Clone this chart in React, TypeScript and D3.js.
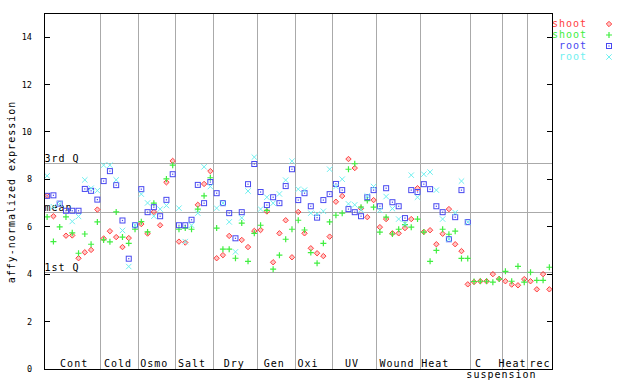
import React from 'react';
import * as d3 from 'd3';

// ---- data ----
const groupNames = ['Cont', 'Cold', 'Osmo', 'Salt', 'Dry', 'Gen', 'Oxi', 'UV', 'Wound', 'Heat', 'C|suspension', 'Heat', 'rec'];
const groupSizes = [9, 6, 6, 6, 7, 6, 6, 7, 7, 8, 5, 4, 4];
const yTicks = [0, 2, 4, 6, 8, 10, 12, 14];
const refLabels = ['3rd Q', 'mean', '1st Q'];
const refValues = [8.69, 6.62, 4.09];
const seriesNames = ['shoot', 'shoot', 'root', 'root'];

const N = null;
const shootA = [
  7.31, 6.45, N, 5.63, 5.64, 4.68, 4.93, 5.03, 6.73,
  5.51, 5.82, 5.57, 5.15, 5.53, N,
  6.12, 5.72, 6.63, 6.07, 7.88, 8.78,
  5.38, 5.34, N, 6.93, 7.81, 8.35,
  4.68, 4.81, 5.62, N, 5.45, 5.15, 5.83,
  5.87, 6.65, 4.51, 5.73, 6.28, 4.72,
  6.63, 5.73, 5.10, 4.89, 4.77, 5.59,
  7.06, 7.30, 8.86, 8.48, 6.78, 6.41, 7.13,
  5.99, 6.33, 5.73, 5.73, 5.95, 6.33, 7.63,
  5.79, 5.86, 5.27, 5.71, 6.75, 5.27, 4.98, 3.58,
  3.68, 3.71, 3.71, 4.01, 3.81,
  3.71, 3.57, 3.54, 3.80,
  3.71, 3.37, 4.01, 3.37,
];
const shootB = [
  6.42, 5.38, 6.00, 6.42, 5.75, 4.89, 5.70, 5.27, 6.21,
  5.45, 5.37, 6.63, 5.57, 5.31, 5.90,
  6.22, 5.79, 7.00, N, 8.02, 8.60,
  5.90, 5.95, 5.90, 6.75, 7.31, 8.07,
  5.95, 5.06, 5.06, 4.68, 6.16, 4.55, 5.73,
  6.07, 6.70, 4.22, 4.81, 5.48, 5.90,
  6.28, 5.87, 4.92, 4.47, 5.31, 6.21,
  6.49, 6.58, 8.43, 8.66, 6.83, 7.11, 6.83,
  5.78, 6.41, 5.70, 5.90, 6.10, 5.99, 6.33,
  5.78, 4.55, 5.01, 5.90, 5.69, 5.82, 4.67, 4.67,
  3.70, 3.71, 3.71, 3.67, 3.80,
  4.13, 3.71, 4.34, 3.67,
  4.09, 3.75, 3.75, 4.30,
];
const rootA = [
  7.31, 7.33, 6.98, 6.68, 6.68, 6.68, 7.60, 7.52, 7.15,
  7.93, 8.35, 7.76, 6.27, 4.66, 6.07,
  7.59, 6.62, 6.83, 6.45, 7.14, 8.22,
  6.07, 6.07, 6.30, 7.77, 7.00, 7.89,
  7.42, 7.00, 6.58, 5.52, 6.62, 7.80, 8.65,
  7.47, 6.92, 7.25, 7.00, 7.72, 8.43,
  7.13, 7.42, 6.87, 6.39, 7.13, 7.38,
  7.81, 7.55, 6.75, 6.62, 6.45, 7.25, 7.55,
  6.87, 7.63, 7.04, 6.87, 6.37, 7.55, 7.47,
  7.80, 7.59, 6.87, 6.62, 5.48, 6.41, 7.55, 6.20,
  N, N, N, N, N,
  N, N, N, N,
  N, N, N, N,
];
const rootB = [
  8.15, 6.85, 6.98, N, 6.23, 6.44, 7.98, 7.63, 7.53,
  8.60, 8.60, 7.98, 5.85, 4.33, 6.07,
  7.38, 7.01, 6.45, 6.75, 6.90, N,
  6.79, 5.38, 6.07, 6.58, 8.53, 7.70,
  6.79, 7.00, 6.21, 4.95, 6.38, 7.51, 8.94,
  6.75, 7.25, 7.00, 7.39, 7.97, 8.77,
  7.59, 7.55, 6.58, 6.54, 6.66, 8.43,
  7.70, 8.01, 6.97, 6.93, 6.72, 7.30, 7.70,
  6.70, 7.28, 6.77, 6.33, 6.13, 8.18, 7.25,
  8.22, 8.31, 7.55, 6.33, 5.48, 6.60, 7.93, 6.20,
  N, N, N, N, N,
  N, N, N, N,
  N, N, N, N,
];

// ---- layout / style ----
const W = 640, H = 384;
const L = 44, R = 552.5, T = 13.3, B = 369.3;
const colors = ['#ff4040', '#40ee40', '#4848f0', '#70f0f0'];
const grid = '#aaaaaa';
const font = '"DejaVu Sans Mono", monospace';
const labelNudge = [1.4, -1.9, -3.3, -3.2, -1.8, -2.6, -6.5, -3.3, -2.1, -11, -8.6, -2.9, -0.5];

function Marker({ kind, x, y, color }: { kind: number; x: number; y: number; color: string }) {
  if (kind === 0) {
    const d = `M${x},${y - 2.7}L${x + 2.7},${y}L${x},${y + 2.7}L${x - 2.7},${y}Z`;
    return <path d={d} fill={color} fillOpacity={0.3} stroke={color} strokeWidth={1} />;
  }
  if (kind === 1) {
    return (
      <path d={`M${x - 3},${y}H${x + 3}M${x},${y - 3}V${y + 3}`} stroke={color} strokeWidth={1.2} fill="none" />
    );
  }
  if (kind === 2) {
    return (
      <g>
        <rect x={x - 2.5} y={y - 2.5} width={5} height={5} fill="none" stroke={color} strokeWidth={1} />
        <rect x={x - 0.6} y={y - 0.6} width={1.2} height={1.2} fill={color} />
      </g>
    );
  }
  return (
    <path d={`M${x - 2.7},${y - 2.7}L${x + 2.7},${y + 2.7}M${x - 2.7},${y + 2.7}L${x + 2.7},${y - 2.7}`} stroke={color} strokeWidth={1} fill="none" />
  );
}

export default function App() {
  const total = d3.sum(groupSizes);
  const x = d3.scaleLinear().domain([0, total]).range([L, R]);
  const y = d3.scaleLinear().domain([0, 15]).range([B, T]);
  const bounds = d3.cumsum(groupSizes);
  const starts = [0, ...Array.from(bounds).slice(0, -1)];
  const series = [shootA, shootB, rootA, rootB];

  return (
    <svg width={W} height={H} style={{ position: 'absolute', left: 0, top: 0, background: '#fff' }}
      fontFamily={font}>
      <rect x={0} y={0} width={W} height={H} fill="#fff" />
      {Array.from(bounds).slice(0, -1).map((b, i) => (
        <line key={'s' + i} x1={x(b)} x2={x(b)} y1={T} y2={B} stroke={grid} strokeWidth={1} shapeRendering="crispEdges" />
      ))}
      {refValues.map((v, i) => (
        <g key={'r' + i}>
          <line x1={L} x2={R} y1={y(v)} y2={y(v)} stroke={grid} strokeWidth={1} shapeRendering="crispEdges" />
          <text x={L + 0.5} y={y(v) - 1.5} fontSize={10} letterSpacing={1} fill="#000">{refLabels[i]}</text>
        </g>
      ))}
      {series.map((s, k) => (
        <g key={'g' + k}>
          {s.map((v, i) => v == null ? null : (
            <Marker key={i} kind={k} x={x(i + 0.5)} y={y(v)} color={colors[k]} />
          ))}
        </g>
      ))}
      <rect x={L} y={T} width={R - L} height={B - T} fill="none" stroke="#000" strokeWidth={1} shapeRendering="crispEdges" />
      {yTicks.map(t => (
        <g key={'t' + t}>
          <line x1={L} x2={L + 6} y1={y(t)} y2={y(t)} stroke="#000" shapeRendering="crispEdges" />
          <line x1={R - 6} x2={R} y1={y(t)} y2={y(t)} stroke="#000" shapeRendering="crispEdges" />
          <text x={32} y={y(t) + 3} fontSize={8.5} textAnchor="end" fill="#000">{t}</text>
        </g>
      ))}
      {groupNames.map((g, i) => {
        const cx = (x(starts[i]) + x(bounds[i])) / 2;
        const parts = g.split('|');
        if (parts.length === 1) {
          return <text key={'l' + i} x={cx + labelNudge[i] + 0.5} y={367} fontSize={10} letterSpacing={1} textAnchor="middle" fill="#000">{g}</text>;
        }
        return (
          <g key={'l' + i}>
            <text x={cx + labelNudge[i] + 0.5} y={367} fontSize={10} letterSpacing={1} textAnchor="middle" fill="#000">{parts[0]}</text>
            <text x={cx + 14.9} y={378} fontSize={10} letterSpacing={1} textAnchor="middle" fill="#000">{parts[1]}</text>
          </g>
        );
      })}
      <text transform={`translate(15,192) rotate(-90)`} fontSize={10} letterSpacing={1} textAnchor="middle" fill="#000">
        affy-normalized expression
      </text>
      {seriesNames.map((n, k) => (
        <g key={'lg' + k}>
          <text x={587} y={27 + k * 11} fontSize={10} letterSpacing={1} textAnchor="end" fill={colors[k]}>{n}</text>
          <Marker kind={k} x={609} y={24 + k * 11} color={colors[k]} />
        </g>
      ))}
    </svg>
  );
}
